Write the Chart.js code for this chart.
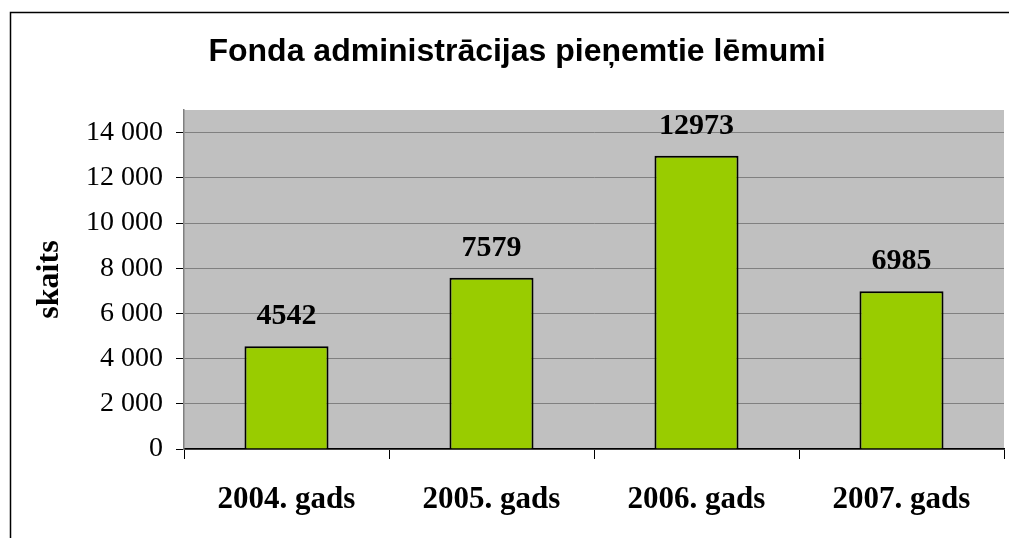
<!DOCTYPE html>
<html>
<head>
<meta charset="utf-8">
<script src="https://cdn.jsdelivr.net/npm/chart.js@4"></script>
<style>
  html, body { margin: 0; padding: 0; background: #fff; }
  #wrap { width: 1009px; height: 538px; }
</style>
</head>
<body>
<div id="wrap"><canvas id="myChart" width="1009" height="538"></canvas></div>
<script>
const TITLE = "Fonda administrācijas pieņemtie lēmumi"
const AXIS_TITLE = "skaits"
const years = ["2004. gads", "2005. gads", "2006. gads", "2007. gads"]
const decisions = [4542, 7579, 12973, 6985]
const yTicks = [0, 2000, 4000, 6000, 8000, 10000, 12000, 14000]
const yMax = 15000

const serif = "'Liberation Serif', 'Times New Roman', serif"
const sans = "'Liberation Sans', Arial, sans-serif"

function fmt(v) {
  return String(v).replace(/\B(?=(\d{3})+(?!\d))/g, " ")
}

// gray plot area + outer frame
const backdrop = {
  id: "backdrop",
  beforeDraw(chart) {
    const { ctx, chartArea: a } = chart
    ctx.save()
    ctx.fillStyle = "#c0c0c0"
    ctx.fillRect(a.left, a.top, a.right - a.left, a.bottom - a.top)
    ctx.strokeStyle = "#000"
    ctx.lineWidth = 1.5
    ctx.beginPath()
    ctx.moveTo(10.5, 540)
    ctx.lineTo(10.5, 12.5)
    ctx.lineTo(1012, 12.5)
    ctx.stroke()
    ctx.restore()
  }
}

// values above bars
const valueLabels = {
  id: "valueLabels",
  afterDatasetsDraw(chart) {
    const ctx = chart.ctx
    const meta = chart.getDatasetMeta(0)
    ctx.save()
    ctx.font = "bold 30px " + serif
    ctx.fillStyle = "#000"
    ctx.textAlign = "center"
    ctx.textBaseline = "alphabetic"
    meta.data.forEach((bar, i) => {
      ctx.fillText(String(decisions[i]), bar.x, bar.y - 22)
    })
    ctx.restore()
  }
}

const config = {
  type: "bar",
  data: {
    labels: years,
    datasets: [{
      data: decisions,
      backgroundColor: "#99cc00",
      borderColor: "#000",
      borderWidth: 2,
      categoryPercentage: 1,
      barPercentage: 0.41
    }]
  },
  options: {
    responsive: false,
    animation: false,
    layout: { padding: { left: 30, right: 5, top: 0, bottom: 0 } },
    plugins: {
      legend: { display: false },
      tooltip: { enabled: false },
      title: {
        display: true,
        text: TITLE,
        color: "#000",
        font: { family: sans, size: 32, weight: "bold", lineHeight: 1.2 },
        padding: { top: 33, bottom: 38.6 }
      }
    },
    scales: {
      x: {
        offset: true,
        grid: {
          offset: true,
          drawOnChartArea: false,
          tickLength: 10,
          tickColor: "#000"
        },
        border: { color: "#000", width: 1.5 },
        ticks: {
          color: "#000",
          padding: 22,
          font: { family: serif, size: 31, weight: "bold" }
        },
        afterFit(scale) { scale.height = 89 }
      },
      y: {
        min: 0,
        max: yMax,
        afterBuildTicks(scale) {
          scale.ticks = yTicks.map(v => ({ value: v }))
        },
        grid: {
          color: "#808080",
          lineWidth: 1,
          tickLength: 8,
          tickColor: "#000"
        },
        border: { color: "#808080", width: 1.5 },
        ticks: {
          autoSkip: false,
          color: "#000",
          padding: 13,
          font: { family: serif, size: 28 },
          callback: v => fmt(v)
        },
        title: {
          display: true,
          text: AXIS_TITLE,
          color: "#000",
          font: { family: serif, size: 32, weight: "bold", lineHeight: 1.2 },
          padding: { top: 1, bottom: 0 }
        },
        afterFit(scale) { scale.width = 154 }
      }
    }
  },
  plugins: [backdrop, valueLabels]
}

const myChart = new Chart(document.getElementById("myChart"), config)
</script>
</body>
</html>
